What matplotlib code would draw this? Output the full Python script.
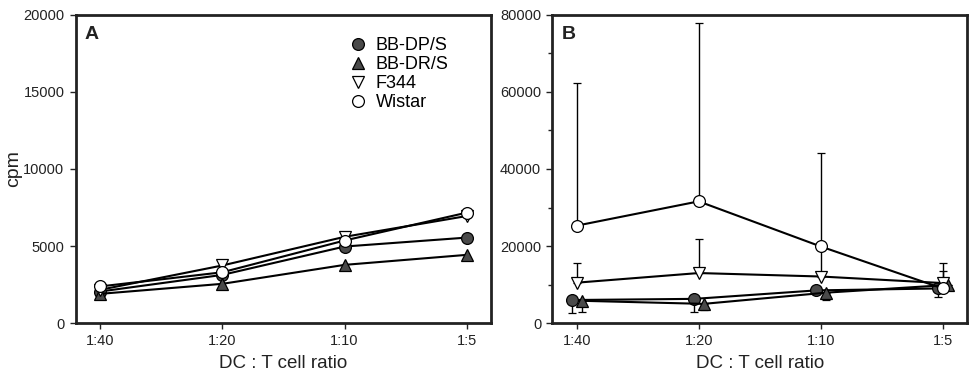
import numpy as np
import matplotlib.pyplot as plt
from matplotlib.lines import Line2D

plt.rcParams['font.family'] = ['Liberation Sans', 'DejaVu Sans']

# categories on x axis
ratios = ['1:40', '1:20', '1:10', '1:5']
strains = ['BB-DP/S', 'BB-DR/S', 'F344', 'Wistar']

# panel A values (cpm)
a_bbdp = [2050, 3130, 4970, 5550]
a_bbdr = [1900, 2550, 3780, 4430]
a_f344 = [2160, 3740, 5600, 6950]
a_wistar = [2380, 3300, 5360, 7170]

# panel B values (cpm) and error bars (lower, upper)
b_bbdp = [6000, 6300, 8500, 9000]
b_bbdp_lo = [3400, 3300, 0, 2300]
b_bbdp_hi = [0, 0, 0, 0]
b_bbdr = [5800, 5000, 7900, 9900]
b_bbdr_lo = [2800, 1500, 1900, 0]
b_bbdr_hi = [0, 0, 0, 0]
b_f344 = [10500, 13000, 12100, 10400]
b_f344_lo = [0, 0, 0, 0]
b_f344_hi = [5100, 8800, 7800, 5100]
b_wistar = [25300, 31600, 19900, 9000]
b_wistar_lo = [0, 0, 0, 0]
b_wistar_hi = [37100, 46200, 24200, 4600]

gray = '#4a4a4a'
ink = '#222222'
styles = {
    'BB-DP/S': dict(marker='o', mfc=gray, off=-0.035),
    'BB-DR/S': dict(marker='^', mfc=gray, off=0.04),
    'F344': dict(marker='v', mfc='white', off=0.0),
    'Wistar': dict(marker='o', mfc='white', off=0.0),
}
msize = 8.5

x = np.arange(len(ratios))

fig = plt.figure(figsize=(9.69, 3.71), dpi=100)
axA = fig.add_axes([0.078, 0.129, 0.429, 0.831])
axB = fig.add_axes([0.570, 0.129, 0.428, 0.831])


def style_axes(ax, ymax, step, letter):
    ax.set_xlim(-0.2, 3.2)
    ax.set_ylim(0, ymax)
    ax.set_xticks(x)
    ax.set_xticklabels(ratios)
    ax.set_yticks(np.arange(0, ymax + 1, step))
    for s in ax.spines.values():
        s.set_linewidth(2.0)
        s.set_color(ink)
    ax.tick_params(axis='both', direction='out', length=4, width=1,
                   labelsize=10.5, colors=ink, pad=4)
    ax.set_xlabel('DC : T cell ratio', fontsize=13.5, color=ink, labelpad=5)
    ax.text(0.022, 0.965, letter, transform=ax.transAxes, fontsize=14,
            fontweight='bold', va='top', ha='left', color=ink)


# panel A
for name, vals in zip(strains, [a_bbdp, a_bbdr, a_f344, a_wistar]):
    st = styles[name]
    axA.plot(x, vals, color='black', lw=1.5, marker=st['marker'],
             mfc=st['mfc'], mec='black', mew=0.9, ms=msize, zorder=3)
style_axes(axA, 20000, 5000, 'A')
axA.set_ylabel('cpm', fontsize=14, color=ink, labelpad=1)

handles = [Line2D([], [], ls='none', marker=styles[n]['marker'],
                  mfc=styles[n]['mfc'], mec='black', mew=0.9, ms=msize)
           for n in strains]
axA.legend(handles, strains, loc='upper left', bbox_to_anchor=(0.635, 0.95),
           frameon=False, fontsize=13, handletextpad=0.4, labelspacing=0.1,
           handlelength=1.2, borderaxespad=0)

# panel B
b_data = [(b_bbdp, b_bbdp_lo, b_bbdp_hi), (b_bbdr, b_bbdr_lo, b_bbdr_hi),
          (b_f344, b_f344_lo, b_f344_hi), (b_wistar, b_wistar_lo, b_wistar_hi)]
for name, (vals, lo, hi) in zip(strains, b_data):
    st = styles[name]
    axB.errorbar(x + st['off'], vals, yerr=[lo, hi], color='black', lw=1.5,
                 marker=st['marker'], mfc=st['mfc'], mec='black', mew=0.9,
                 ms=msize, ecolor='black', elinewidth=1, capsize=3,
                 capthick=1, zorder=3)
style_axes(axB, 80000, 20000, 'B')
axB.set_yticks(np.arange(10000, 80000, 20000), minor=True)
axB.tick_params(axis='y', which='minor', direction='out', length=3, width=1,
                colors=ink)

fig.savefig('out.png', dpi=100)
